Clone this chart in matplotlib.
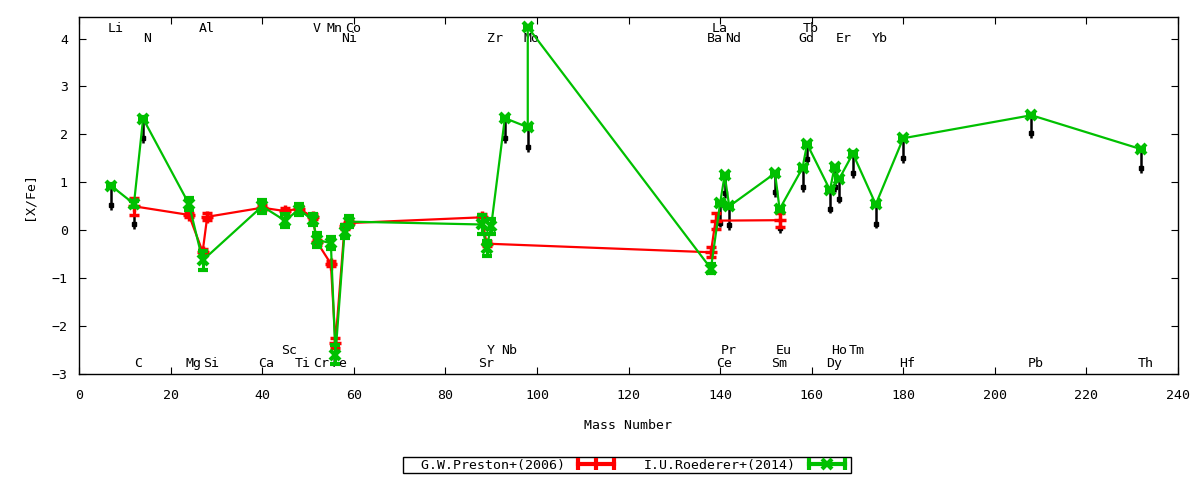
import matplotlib
matplotlib.use("Agg")
import matplotlib.pyplot as plt
from matplotlib.lines import Line2D
from matplotlib.legend_handler import HandlerLine2D, HandlerTuple

plt.rcParams['font.family'] = ['DejaVu Sans Mono', 'DejaVu Sans']
plt.rcParams['font.size'] = 9.5

# G.W.Preston+(2006)
preston_mass = [12, 24, 27, 28, 40, 45, 48, 51, 52, 55, 56, 58, 59, 88, 89, 138, 139, 153]
preston_val = [0.50, 0.32, -0.45, 0.28, 0.47, 0.40, 0.45, 0.28, -0.25, -0.70, -2.35, 0.08, 0.15,
               0.27, -0.28, -0.46, 0.20, 0.21]
preston_err = [0.18, 0.05, 0.05, 0.07, 0.05, 0.07, 0.05, 0.05, 0.05, 0.05, 0.10, 0.05, 0.05,
               0.07, 0.05, 0.10, 0.17, 0.15]

# I.U.Roederer+(2014)
roederer_mass = [7, 12, 14, 24, 27, 40, 45, 48, 51, 52, 55, 56, 58, 59, 88, 89, 90, 93, 98, 98,
                 138, 140, 141, 142, 152, 153, 158, 159, 164, 165, 166, 169, 174, 180, 208, 232]
roederer_val = [0.93, 0.55, 2.33, 0.55, -0.63, 0.50, 0.20, 0.43, 0.22, -0.20, -0.27, -2.60, -0.03,
                0.18, 0.12, -0.38, 0.08, 2.34, 2.15, 4.24, -0.80, 0.56, 1.15, 0.50, 1.19, 0.44,
                1.30, 1.80, 0.84, 1.32, 1.07, 1.60, 0.54, 1.92, 2.40, 1.69]
roederer_err = [0.03, 0.06, 0.03, 0.13, 0.20, 0.13, 0.13, 0.12, 0.12, 0.15, 0.12, 0.20, 0.13,
                0.12, 0.20, 0.15, 0.15, 0.03, 0.03, 0.03, 0.10, 0.03, 0.03, 0.03, 0.03, 0.03,
                0.03, 0.03, 0.03, 0.03, 0.03, 0.03, 0.03, 0.03, 0.03, 0.03]

# upper limits (black arrows)
limit_mass = [7, 12, 14, 93, 98, 140, 141, 142, 152, 153, 158, 159, 164, 165, 166, 169, 174, 180, 208, 232]
limit_top = [0.93, 0.50, 2.33, 2.34, 2.15, 0.56, 1.15, 0.50, 1.19, 0.44, 1.30, 1.80, 0.84, 1.32,
             1.07, 1.60, 0.54, 1.92, 2.40, 1.69]
limit_bottom = [0.42, 0.02, 1.82, 1.82, 1.63, 0.06, 0.68, 0.00, 0.70, -0.06, 0.80, 1.38, 0.35, 0.80,
                0.56, 1.10, 0.04, 1.40, 1.92, 1.19]

element_mass = {'Li': 7, 'C': 12, 'N': 14, 'Mg': 24, 'Al': 27, 'Si': 28, 'Ca': 40, 'Sc': 45,
                'Ti': 48, 'V': 51, 'Cr': 52, 'Mn': 55, 'Fe': 56, 'Ni': 58, 'Co': 59, 'Sr': 88,
                'Y': 89, 'Zr': 90, 'Nb': 93, 'Mo': 98, 'Ba': 138, 'La': 139, 'Ce': 140, 'Pr': 141,
                'Nd': 142, 'Sm': 152, 'Eu': 153, 'Gd': 158, 'Tb': 159, 'Dy': 164, 'Ho': 165,
                'Er': 166, 'Tm': 169, 'Yb': 174, 'Hf': 180, 'Pb': 208, 'Th': 232}
top_row1 = ['Li', 'Al', 'V', 'Mn', 'Co', 'La', 'Tb']
top_row2 = ['N', 'Ni', 'Zr', 'Mo', 'Ba', 'Nd', 'Gd', 'Er', 'Yb']
bottom_row1 = ['Sc', 'Y', 'Nb', 'Pr', 'Eu', 'Ho', 'Tm']
bottom_row2 = ['C', 'Mg', 'Si', 'Ca', 'Ti', 'Cr', 'Fe', 'Sr', 'Ce', 'Sm', 'Dy', 'Hf', 'Pb', 'Th']

RED = '#ff0000'
GREEN = '#00c000'

fig = plt.figure(figsize=(12, 4.8), dpi=100)
ax = fig.add_axes([79 / 1200, 1 - 374 / 480, (1178 - 79) / 1200, (374 - 17) / 480])

# arrows
ax.vlines(limit_mass, limit_bottom, limit_top, color='black', lw=1.8, zorder=1.5)
ax.plot(limit_mass, [b + 0.1 for b in limit_bottom], ls='none', marker='s', ms=3.5,
        color='black', zorder=1.5)

ax.errorbar(preston_mass, preston_val, yerr=preston_err, color=RED, lw=1.6, marker='+', ms=8,
            mew=2.5, capsize=3.5, capthick=2.5, elinewidth=2.2, zorder=2)
ax.errorbar(roederer_mass, roederer_val, yerr=roederer_err, color=GREEN, lw=1.6, marker='x', ms=7,
            mew=3, capsize=3.5, capthick=2.5, elinewidth=2.2, zorder=3)

rows = [(top_row1, 4.2), (top_row2, 4.0), (bottom_row1, -2.5), (bottom_row2, -2.79)]
for names, ypos in rows:
    for name in names:
        ax.text(element_mass[name] + 0.9, ypos, name, ha='center', va='center', zorder=1)

ax.set_xlim(0, 240)
ax.set_ylim(-3, 4.45)
ax.set_xticks(range(0, 241, 20))
ax.set_yticks(range(-3, 5))
ax.tick_params(direction='in', top=True, right=True, length=5)
ax.tick_params(axis='x', pad=11)
ax.tick_params(axis='y', pad=8)
for s in ax.spines.values():
    s.set_linewidth(1)
ax.set_xlabel('Mass Number', labelpad=12)
ax.set_ylabel('[X/Fe]', labelpad=12)

# gnuplot-like legend samples
red_caps = Line2D([], [], color=RED, lw=3, marker='|', ms=9, mew=3)
green_caps = Line2D([], [], color=GREEN, lw=3, marker='|', ms=9, mew=3)
green_pt = Line2D([], [], color=GREEN, ls='none', marker='x', ms=7, mew=3)
leg = fig.legend([red_caps, (green_caps, green_pt)],
                 ['  G.W.Preston+(2006)', 'I.U.Roederer+(2014)'],
                 handler_map={red_caps: HandlerLine2D(numpoints=3),
                              green_caps: HandlerLine2D(numpoints=2),
                              green_pt: HandlerLine2D(numpoints=1),
                              tuple: HandlerTuple(ndivide=1)},
                 loc='center', bbox_to_anchor=(627 / 1200, 1 - 465 / 480), ncol=2,
                 markerfirst=False, fancybox=False, edgecolor='black', framealpha=1,
                 handlelength=3.3, columnspacing=2.0, borderpad=0.15, handletextpad=0.7)
leg.get_frame().set_linewidth(1)

fig.savefig('out.png', dpi=100)
